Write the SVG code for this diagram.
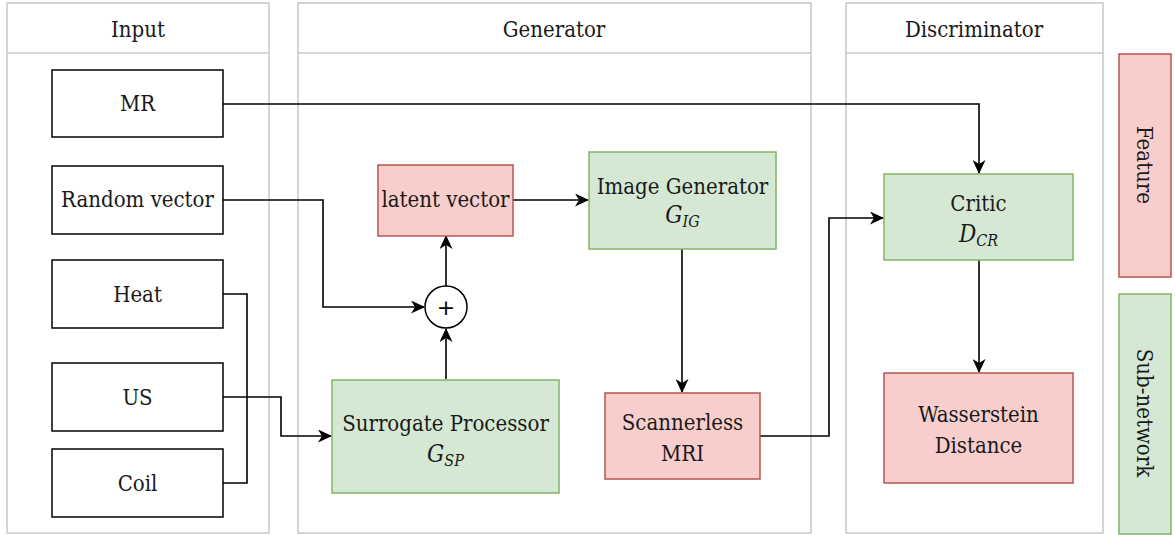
<svg xmlns="http://www.w3.org/2000/svg" width="1175" height="535" viewBox="0 0 1175 535">
  <style>
    .lane { fill: #ffffff; stroke: #c8c8c8; stroke-width: 1.5; }
    .plain { fill: #ffffff; stroke: #000000; stroke-width: 1.5; }
    .red { fill: #f8cecc; stroke: #b85450; stroke-width: 1.5; }
    .green { fill: #d5e8d4; stroke: #82b366; stroke-width: 1.5; }
    text { font-family: 'DejaVu Serif Condensed', 'DejaVu Serif', serif; font-stretch: condensed; }
    .txt { font-size: 22px; fill: #1a1a1a; text-anchor: middle; }
    .math { font-style: italic; font-size: 24px; fill: #1a1a1a; text-anchor: middle; }
    .sub { font-size: 16px; }
    .edge { fill: none; stroke: #000000; stroke-width: 1.6; }
  </style>
  <defs>
    <marker id="arrow" viewBox="0 0 14 13" refX="13" refY="6.5" markerWidth="14" markerHeight="13" markerUnits="userSpaceOnUse" orient="auto">
      <path d="M0,0 L14,6.5 L0,13 L4,6.5 Z" fill="#000000"/>
    </marker>
  </defs>

  <!-- swimlanes -->
  <g id="lane-input">
    <rect class="lane" x="7" y="3" width="262" height="530"/>
    <line class="lane" x1="7" y1="53" x2="269" y2="53"/>
    <text class="txt" x="138" y="37">Input</text>
  </g>
  <g id="lane-generator">
    <rect class="lane" x="298" y="3" width="513" height="530"/>
    <line class="lane" x1="298" y1="53" x2="811" y2="53"/>
    <text class="txt" x="554" y="37">Generator</text>
  </g>
  <g id="lane-discriminator">
    <rect class="lane" x="846" y="3" width="257" height="530"/>
    <line class="lane" x1="846" y1="53" x2="1103" y2="53"/>
    <text class="txt" x="974" y="37">Discriminator</text>
  </g>

  <!-- connectors -->
  <g id="connectors">
    <path class="edge" d="M223,104 H979 V173" marker-end="url(#arrow)"/>
    <path class="edge" d="M223,200 H323 V307 H424" marker-end="url(#arrow)"/>
    <path class="edge" d="M223,294 H247 V483 H223"/>
    <path class="edge" d="M223,397 H281 V436 H331" marker-end="url(#arrow)"/>
    <path class="edge" d="M446,379 V329" marker-end="url(#arrow)"/>
    <path class="edge" d="M446,286 V236" marker-end="url(#arrow)"/>
    <path class="edge" d="M513,200 H588" marker-end="url(#arrow)"/>
    <path class="edge" d="M682,249 V392" marker-end="url(#arrow)"/>
    <path class="edge" d="M760,436 H829 V218 H883" marker-end="url(#arrow)"/>
    <path class="edge" d="M979,260 V372" marker-end="url(#arrow)"/>
  </g>

  <!-- input nodes -->
  <g id="node-mr">
    <rect class="plain" x="52" y="70" width="171" height="67"/>
    <text class="txt" x="137.5" y="111">MR</text>
  </g>
  <g id="node-random-vector">
    <rect class="plain" x="52" y="166" width="171" height="68"/>
    <text class="txt" x="137.5" y="207">Random vector</text>
  </g>
  <g id="node-heat">
    <rect class="plain" x="52" y="260" width="171" height="68"/>
    <text class="txt" x="137.5" y="302">Heat</text>
  </g>
  <g id="node-us">
    <rect class="plain" x="52" y="363" width="171" height="68"/>
    <text class="txt" x="137.5" y="405">US</text>
  </g>
  <g id="node-coil">
    <rect class="plain" x="52" y="449" width="171" height="68"/>
    <text class="txt" x="137.5" y="491">Coil</text>
  </g>

  <!-- generator nodes -->
  <g id="node-sum">
    <circle class="plain" cx="446" cy="307" r="21"/>
    <text x="446" y="315" text-anchor="middle" style="font-family: 'DejaVu Sans', sans-serif; font-stretch: normal; font-size: 22px;" fill="#000000">+</text>
  </g>
  <g id="node-surrogate">
    <rect class="green" x="332" y="380" width="227" height="113"/>
    <text class="txt" x="445.5" y="431">Surrogate Processor</text>
    <text class="math" x="445.5" y="462">G<tspan class="sub" dy="4">SP</tspan></text>
  </g>
  <g id="node-latent">
    <rect class="red" x="378" y="165" width="135" height="71"/>
    <text class="txt" x="445.5" y="207">latent vector</text>
  </g>
  <g id="node-image-generator">
    <rect class="green" x="589" y="152" width="187" height="97"/>
    <text class="txt" x="682.5" y="194">Image Generator</text>
    <text class="math" x="682.5" y="223">G<tspan class="sub" dy="4">IG</tspan></text>
  </g>
  <g id="node-scannerless">
    <rect class="red" x="605" y="393" width="155" height="86"/>
    <text class="txt" x="682.5" y="430">Scannerless</text>
    <text class="txt" x="682.5" y="461">MRI</text>
  </g>

  <!-- discriminator nodes -->
  <g id="node-critic">
    <rect class="green" x="884" y="174" width="189" height="86"/>
    <text class="txt" x="978.5" y="211">Critic</text>
    <text class="math" x="978.5" y="242">D<tspan class="sub" dy="4">CR</tspan></text>
  </g>
  <g id="node-wasserstein">
    <rect class="red" x="884" y="373" width="189" height="110"/>
    <text class="txt" x="978.5" y="422">Wasserstein</text>
    <text class="txt" x="978.5" y="453">Distance</text>
  </g>

  <!-- legend -->
  <g id="legend-feature">
    <rect class="red" x="1119" y="54" width="52" height="223"/>
    <text class="txt" transform="translate(1145,165) rotate(90)" x="0" y="8">Feature</text>
  </g>
  <g id="legend-subnetwork">
    <rect class="green" x="1119" y="294" width="52" height="240"/>
    <text class="txt" transform="translate(1145,413) rotate(90)" x="0" y="8">Sub-network</text>
  </g>
</svg>
